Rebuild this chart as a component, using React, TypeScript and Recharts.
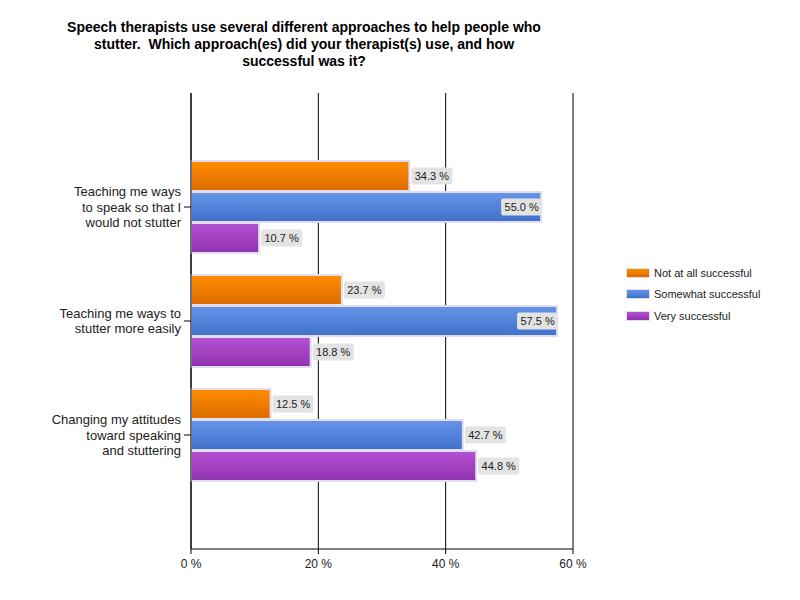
import React from "react";
import {
  BarChart,
  Bar,
  XAxis,
  YAxis,
  CartesianGrid,
  LabelList,
  Legend,
} from "recharts";

const approaches = [
  "Teaching me ways\nto speak so that I\nwould not stutter",
  "Teaching me ways to\nstutter more easily",
  "Changing my attitudes\ntoward speaking\nand stuttering",
];
const notAtAll = [34.3, 23.7, 12.5];
const somewhat = [55.0, 57.5, 42.7];
const very = [10.7, 18.8, 44.8];
const xTicks = [0, 20, 40, 60];

const series = [
  { key: "notAtAll", name: "Not at all successful", top: "#ff8c00", bottom: "#dc6c00" },
  { key: "somewhat", name: "Somewhat successful", top: "#6596ea", bottom: "#3f6fc8" },
  { key: "very", name: "Very successful", top: "#b550d4", bottom: "#9032b0" },
];

const data = approaches.map((name, i) => ({
  name,
  notAtAll: notAtAll[i],
  somewhat: somewhat[i],
  very: very[i],
}));

const FONT = "Arial, 'Liberation Sans', sans-serif";
const PLOT_RIGHT = 573;

const CategoryTick = (props: any) => {
  const { x, y, payload } = props;
  const lines = String(payload.value).split("\n");
  const start = y - ((lines.length - 1) * 15.5) / 2;
  return (
    <text x={x} y={start} textAnchor="end" fontSize={13} fontFamily={FONT} fill="#222">
      {lines.map((l, i) => (
        <tspan key={i} x={x} dy={i === 0 ? 4.5 : 15.5}>
          {l}
        </tspan>
      ))}
    </text>
  );
};

const ValueLabel = (props: any) => {
  const { x, y, width, height, value } = props;
  const text = `${Number(value).toFixed(1)} %`;
  const boxW = 41;
  const boxH = 17;
  const end = x + width;
  const inside = end + boxW + 4 > PLOT_RIGHT;
  const bx = inside ? end - boxW + 1 : end + 2;
  const by = y + height / 2 - boxH / 2;
  return (
    <g>
      <rect x={bx} y={by} width={boxW} height={boxH} rx={2} fill="#e3e3e3" />
      <text
        x={bx + boxW / 2}
        y={by + boxH / 2 + 4}
        textAnchor="middle"
        fontSize={11}
        fontFamily={FONT}
        fill="#222"
      >
        {text}
      </text>
    </g>
  );
};

const LegendBox = () => (
  <div style={{ fontFamily: FONT, fontSize: 11, color: "#222" }}>
    {series.map((s) => (
      <div key={s.key} style={{ display: "flex", alignItems: "center", height: 21.5 }}>
        <span
          style={{
            display: "inline-block",
            width: 22,
            height: 8,
            marginRight: 4,
            border: "1px solid #e6dcea",
            background: `linear-gradient(${s.top}, ${s.bottom})`,
          }}
        />
        {s.name}
      </div>
    ))}
  </div>
);

export default function App() {
  return (
    <div style={{ position: "absolute", left: 0, top: 0, width: 800, height: 600, background: "#fff" }}>
      <div
        style={{
          position: "absolute",
          left: 24,
          top: 19,
          width: 560,
          textAlign: "center",
          fontFamily: FONT,
          fontWeight: "bold",
          fontSize: 14,
          lineHeight: "17px",
          color: "#000",
          zIndex: 1,
        }}
      >
        Speech therapists use several different approaches to help people who
        <br />
        stutter.&nbsp; Which approach(es) did your therapist(s) use, and how
        <br />
        successful was it?
      </div>
      <BarChart
        width={800}
        height={600}
        data={data}
        layout="vertical"
        margin={{ top: 93, right: 227, left: 0, bottom: 0 }}
        barSize={30}
        barGap={1}
      >
        <defs>
          {series.map((s) => (
            <linearGradient key={s.key} id={`g-${s.key}`} x1="0" y1="0" x2="0" y2="1">
              <stop offset="0%" stopColor={s.top} />
              <stop offset="100%" stopColor={s.bottom} />
            </linearGradient>
          ))}
        </defs>
        <CartesianGrid horizontal={false} stroke="#000" strokeOpacity={1} />
        <XAxis
          type="number"
          domain={[0, 60]}
          ticks={xTicks}
          tickFormatter={(v) => `${v} %`}
          height={51}
          tickSize={5}
          stroke="#000"
          tick={{ fill: "#222", fontSize: 12, fontFamily: FONT }}
          tickMargin={5}
        />
        <YAxis
          type="category"
          dataKey="name"
          width={191}
          padding={{ top: 57, bottom: 57 }}
          tickSize={7}
          tickMargin={3}
          stroke="#000"
          tick={<CategoryTick />}
          interval={0}
        />
        {/* edge ticks at the top and bottom of the category axis */}
        <YAxis
          yAxisId="edges"
          type="number"
          domain={[0, 1]}
          ticks={[0, 1]}
          width={0}
          tickSize={8}
          tick={false}
          axisLine={false}
          stroke="#000"
        />
        <Legend
          layout="vertical"
          align="center"
          verticalAlign="middle"
          content={<LegendBox />}
          wrapperStyle={{ left: 626, top: 262, width: 170 }}
        />
        {series.map((s) => (
          <Bar
            key={s.key}
            dataKey={s.key}
            name={s.name}
            fill={`url(#g-${s.key})`}
            stroke="#e4dcef"
            strokeWidth={2}
            isAnimationActive={false}
          >
            <LabelList dataKey={s.key} content={<ValueLabel />} />
          </Bar>
        ))}
      </BarChart>
    </div>
  );
}
